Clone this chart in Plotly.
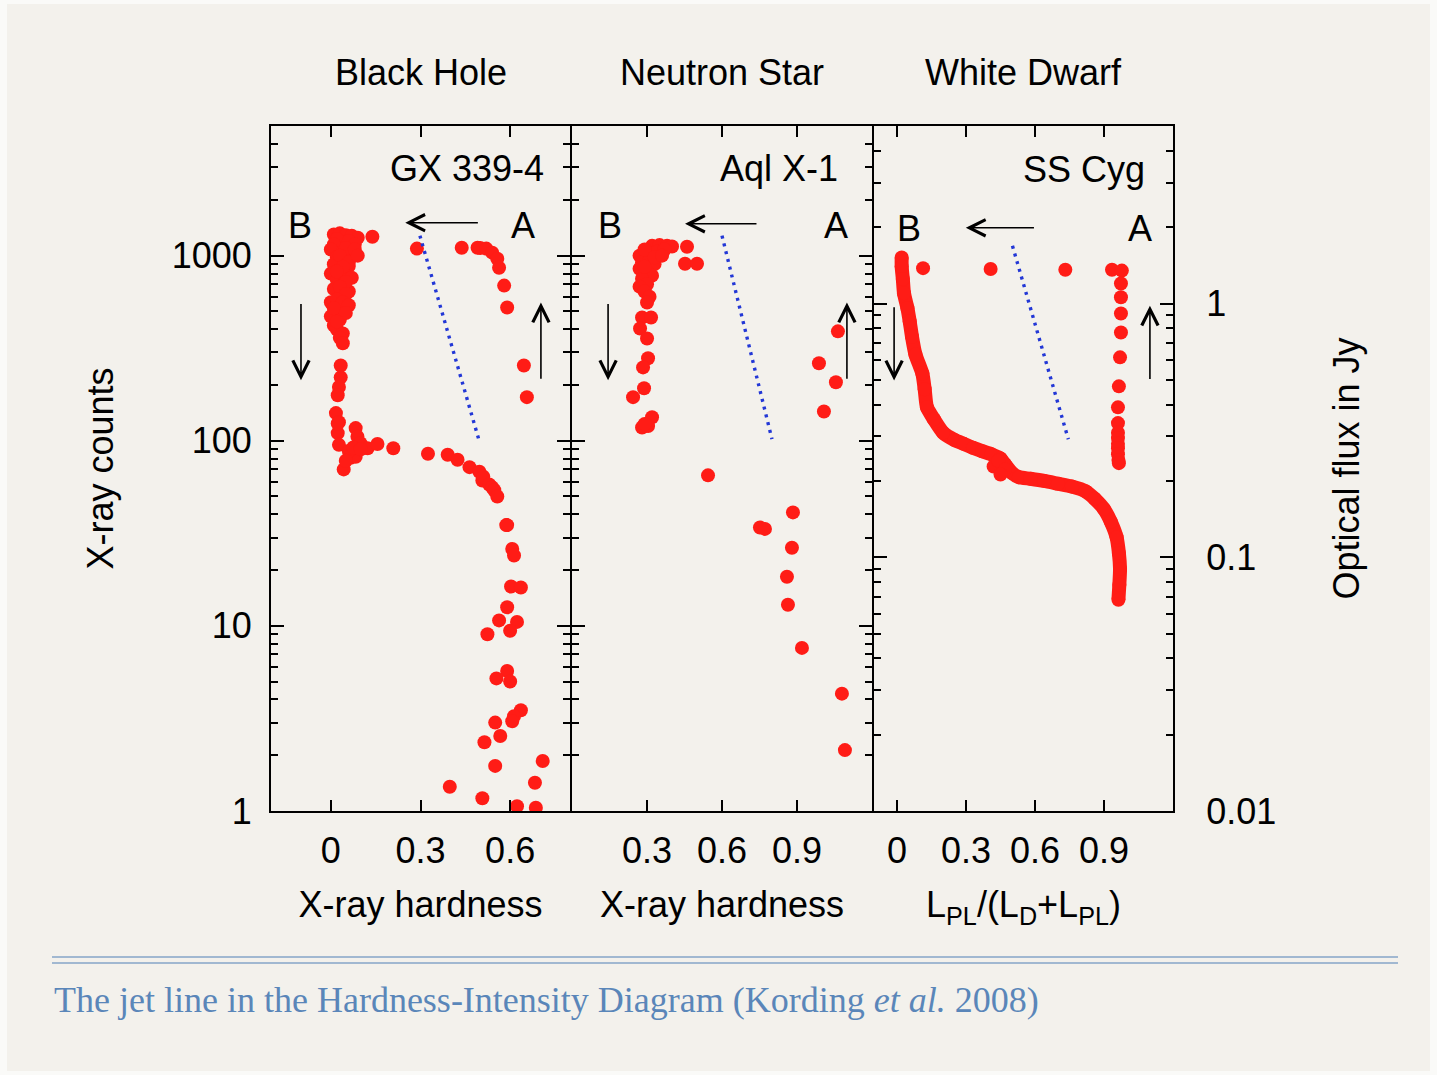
import plotly.graph_objects as go

# ---------------------------------------------------------------- data
# Black hole GX 339-4: X-ray hardness vs X-ray counts
bh_hardness = [0.01, 0.03, 0.05, 0.07, 0.09, 0.02, 0.06, 0.08, 0.01, 0.139,
               0.00, 0.04, 0.07, 0.02, 0.05, 0.01, 0.06, 0.03, 0.00, 0.05,
               0.02, 0.04, 0.01, 0.06, 0.03, 0.00, 0.04, 0.02, 0.00, 0.03,
               0.01, 0.02, 0.04, 0.03, 0.040, 0.033, 0.033, 0.027, 0.023, 0.017,
               0.027, 0.023, 0.023, 0.027, 0.083, 0.089, 0.099, 0.123, 0.156, 0.209,
               0.066, 0.043, 0.083, 0.06, 0.075, 0.05, 0.10,
               0.05, 0.03, 0.06, 0.04, 0.02, 0.07, 0.05, 0.03, 0.05, 0.02,
               0.04, 0.06, 0.01, 0.05, 0.02, 0.08, 0.09,
               0.325, 0.391, 0.424, 0.464, 0.497, 0.507, 0.51, 0.530, 0.54, 0.547,
               0.557, 0.587, 0.590, 0.607, 0.613, 0.603, 0.636, 0.590, 0.563, 0.623,
               0.600, 0.524, 0.590, 0.554, 0.600, 0.636, 0.613, 0.607, 0.550, 0.567,
               0.514, 0.709, 0.550, 0.398, 0.683, 0.507, 0.623, 0.686,
               0.288, 0.438, 0.491, 0.50, 0.520, 0.540, 0.557, 0.563, 0.580, 0.590,
               0.646, 0.656]
bh_counts = [1300, 1320, 1290, 1280, 1250, 1230, 1200, 1150, 1150, 1265,
             1080, 1050, 1020, 980, 950, 900, 880, 840, 800, 780,
             740, 700, 660, 640, 600, 560, 530, 500, 470, 450,
             420, 400, 380, 360, 336, 255, 220, 195, 176, 141,
             126, 110, 124, 95, 117, 105, 97, 91, 96, 91,
             81, 70, 82, 88, 92, 78, 90,
             1100, 1000, 920, 870, 820, 760, 720, 680, 620, 580,
             560, 540, 520, 490, 440, 1080, 1000,
             85, 84, 79, 72, 68, 61, 64, 58, 56, 54,
             50, 35, 35, 26, 24, 16.3, 16.1, 12.6, 10.7, 10.5,
             9.4, 9.0, 5.7, 5.2, 5.0, 3.5, 3.25, 3.05, 3.0, 2.54,
             2.35, 1.86, 1.75, 1.35, 1.42, 1.17, 1.06, 1.04,
             1092, 1104, 1104, 1100, 1092, 1038, 963, 861, 689, 525,
             255, 172]

# Neutron star Aql X-1: X-ray hardness vs X-ray counts
ns_hardness = [0.32, 0.35, 0.38, 0.40, 0.27, 0.30, 0.34, 0.37, 0.28, 0.31,
               0.33, 0.27, 0.30, 0.32, 0.28, 0.30, 0.27, 0.29, 0.31,
               0.29, 0.33, 0.36, 0.29,
               0.46, 0.452, 0.50,
               0.30, 0.28, 0.316, 0.272, 0.30, 0.304, 0.284, 0.288, 0.244, 0.32,
               0.28, 0.304, 0.29,
               1.064, 0.988, 1.056, 1.008,
               0.544, 0.884, 0.752, 0.772, 0.88, 0.86, 0.864, 0.92, 1.08, 1.092]
ns_counts = [1130, 1140, 1130, 1120, 1000, 1020, 1050, 1080, 920, 950,
             900, 850, 820, 780, 750, 700, 680, 640, 600,
             1080, 980, 1000, 870,
             1118, 905, 905,
             558, 463, 463, 404, 357, 279, 249, 192, 172, 134,
             118, 120, 123,
             390, 262, 207, 144,
             65, 41, 34, 33.4, 26.4, 18.4, 13.0, 7.6, 4.3, 2.13]

# White dwarf SS Cyg: power-law fraction vs optical flux (Jy)
wd_fraction = [0.113, 0.407, 0.732, 0.935, 0.978, 0.974, 0.974, 0.974, 0.974, 0.970,
               0.965, 0.961, 0.961, 0.961, 0.961, 0.961, 0.961, 0.961, 0.963, 0.965,
               0.42, 0.44, 0.47, 0.45]
wd_flux = [1.38, 1.37, 1.36, 1.36, 1.35, 1.20, 1.06, 0.914, 0.769, 0.614,
           0.472, 0.390, 0.338, 0.310, 0.295, 0.280, 0.269, 0.255, 0.242, 0.235,
           0.228, 0.240, 0.222, 0.212]

# densely sampled decay track of SS Cyg
wd_track_fraction = [0.02, 0.02, 0.025, 0.03, 0.045, 0.055, 0.065, 0.08, 0.11, 0.12,
                     0.13, 0.16, 0.20, 0.25, 0.29, 0.33, 0.37, 0.41, 0.45, 0.47,
                     0.50, 0.53, 0.58, 0.64, 0.70, 0.76, 0.82, 0.86, 0.90, 0.93,
                     0.955, 0.965, 0.97, 0.967, 0.963]
wd_track_flux = [1.52, 1.40, 1.25, 1.10, 0.96, 0.85, 0.74, 0.63, 0.53, 0.46,
                 0.39, 0.35, 0.31, 0.29, 0.28, 0.27, 0.262, 0.255, 0.245, 0.232,
                 0.215, 0.207, 0.204, 0.200, 0.195, 0.190, 0.182, 0.170, 0.155, 0.138,
                 0.120, 0.104, 0.090, 0.078, 0.068]

# jet line in each panel
bh_jet_x, bh_jet_y = [0.298, 0.494], [1282, 103]
ns_jet_x, ns_jet_y = [0.60, 0.80], [1282, 102]
wd_jet_x, wd_jet_y = [0.502, 0.745], [1.69, 0.292]

panel_titles = ["Black Hole", "Neutron Star", "White Dwarf"]
source_names = ["GX 339-4", "Aql X-1", "SS Cyg"]

# ---------------------------------------------------------------- style
W, H = 1437, 1075
FONT = "Liberation Sans, Arial, Helvetica, sans-serif"
RED = "#ff1c16"
BLUE = "#2237d6"
TXT = 36
LW = 2.2  # frame line width


def fx(p):
    return p / W


def fy(p):
    return 1 - p / H


# frame lines are centred on these pixel positions; domains sit half a line inside
half = LW / 2
y_dom = [fy(812 - half), fy(125 + half)]
edges = [270, 571, 873, 1174]
x_doms = [[fx(edges[i] + half), fx(edges[i + 1] - half)] for i in range(3)]

fig = go.Figure()

marker = dict(color=RED, size=14, line=dict(width=0))
jet = dict(color=BLUE, width=3.4, dash="3px,5px")

fig.add_trace(go.Scatter(x=bh_hardness, y=bh_counts, mode="markers", marker=marker,
                         xaxis="x", yaxis="y", showlegend=False))
fig.add_trace(go.Scatter(x=bh_jet_x, y=bh_jet_y, mode="lines", line=jet,
                         xaxis="x", yaxis="y", showlegend=False))

fig.add_trace(go.Scatter(x=ns_hardness, y=ns_counts, mode="markers", marker=marker,
                         xaxis="x2", yaxis="y2", showlegend=False))
fig.add_trace(go.Scatter(x=ns_jet_x, y=ns_jet_y, mode="lines", line=jet,
                         xaxis="x2", yaxis="y2", showlegend=False))

fig.add_trace(go.Scatter(x=wd_track_fraction, y=wd_track_flux, mode="lines+markers",
                         line=dict(color=RED, width=14, shape="spline", smoothing=0.6),
                         marker=marker, xaxis="x3", yaxis="y3", showlegend=False))
fig.add_trace(go.Scatter(x=wd_fraction, y=wd_flux, mode="markers", marker=marker,
                         xaxis="x3", yaxis="y3", showlegend=False))
fig.add_trace(go.Scatter(x=wd_jet_x, y=wd_jet_y, mode="lines", line=jet,
                         xaxis="x3", yaxis="y3", showlegend=False))

tickfont = dict(family=FONT, size=TXT, color="black")
titlefont = dict(family=FONT, size=TXT, color="black")
base = dict(showline=True, linecolor="black", linewidth=LW, mirror="ticks",
            ticks="inside", tickcolor="black", tickwidth=2, showgrid=False,
            zeroline=False, tickfont=tickfont, fixedrange=True, automargin=False)
log_minor = dict(ticks="inside", ticklen=7, tickwidth=1.5, tickcolor="black",
                 dtick="D1", showgrid=False)

xcfg = dict(base, ticklen=11, ticklabelstandoff=7, title_font=titlefont,
            title_standoff=22)
ycfg = dict(base, type="log", dtick=1, ticklen=13, exponentformat="none",
            minor=log_minor)

fig.update_layout(
    xaxis=dict(xcfg, domain=x_doms[0], range=[-0.2, 0.8], tickvals=[0, 0.3, 0.6],
               ticktext=["0", "0.3", "0.6"], anchor="y", title_text="X-ray hardness"),
    xaxis2=dict(xcfg, domain=x_doms[1], range=[0, 1.2], tickvals=[0.3, 0.6, 0.9],
                ticktext=["0.3", "0.6", "0.9"], anchor="y2", title_text="X-ray hardness"),
    xaxis3=dict(xcfg, domain=x_doms[2], range=[-0.1, 1.2], tickvals=[0, 0.3, 0.6, 0.9],
                ticktext=["0", "0.3", "0.6", "0.9"], anchor="y3",
                title_text="L<sub>PL</sub>/(L<sub>D</sub>+L<sub>PL</sub>)"),
    yaxis=dict(ycfg, domain=y_dom, range=[0, 3.7], anchor="x", ticklabelstandoff=10,
               title_text="X-ray counts", title_standoff=47, title_font=titlefont),
    yaxis2=dict(ycfg, domain=y_dom, range=[0, 3.7], anchor="x2", showticklabels=False),
    yaxis3=dict(ycfg, domain=y_dom, range=[-2, 0.7], anchor="x3", side="right",
                ticklabelstandoff=24, title_text="Optical flux in Jy", title_standoff=59,
                title_font=titlefont),
    width=W, height=H,
    autosize=False,
    margin=dict(l=0, r=0, t=0, b=0, pad=0, autoexpand=False),
    paper_bgcolor="#fafaf8",
    plot_bgcolor="rgba(0,0,0,0)",
    showlegend=False,
)

ann = []
# column headings
for i, t in enumerate(panel_titles):
    ann.append(dict(text=t, xref=f"x{'' if i == 0 else i + 1} domain", x=0.5,
                    yref="paper", y=fy(73), xanchor="center", yanchor="middle",
                    showarrow=False, font=dict(family=FONT, size=TXT, color="black")))

# source names, state labels and direction arrows (axis coordinates; log axes use log10)
panels = [
    dict(x="x", y="y", name_x=0.719, name_y=3.469, b=(-0.103, 3.162), a=(0.643, 3.162),
         h=(0.497, 0.249, 3.178), dn=(-0.10, 2.747, 2.327), up=(0.703, 2.327, 2.747)),
    dict(x="x2", y="y2", name_x=1.072, name_y=3.469, b=(0.152, 3.162), a=(1.056, 3.162),
         h=(0.744, 0.452, 3.172), dn=(0.144, 2.747, 2.327), up=(1.10, 2.327, 2.747)),
    dict(x="x3", y="y3", name_x=1.087, name_y=0.530, b=(0.052, 0.295), a=(1.056, 0.295),
         h=(0.602, 0.299, 0.299), dn=(-0.013, -0.008, -0.303), up=(1.10, -0.303, -0.008)),
]
lab_font = dict(family=FONT, size=TXT, color="black")
for i, p in enumerate(panels):
    name = source_names[i]
    ann.append(dict(text=name, xref=p["x"], yref=p["y"], x=p["name_x"], y=p["name_y"],
                    xanchor="right", yanchor="middle", showarrow=False, font=lab_font))
    for lbl, key in (("B", "b"), ("A", "a")):
        ann.append(dict(text=lbl, xref=p["x"], yref=p["y"], x=p[key][0], y=p[key][1],
                        xanchor="center", yanchor="middle", showarrow=False, font=lab_font))
    arrow = dict(text="", xref=p["x"], yref=p["y"], axref=p["x"], ayref=p["y"],
                 showarrow=True, arrowhead=5, arrowsize=2.0, arrowwidth=1.6,
                 arrowcolor="black")
    hx0, hx1, hy = p["h"]
    ann.append(dict(arrow, x=hx1, y=hy, ax=hx0, ay=hy))
    dx, dy0, dy1 = p["dn"]
    ann.append(dict(arrow, x=dx, y=dy1, ax=dx, ay=dy0))
    ux, uy0, uy1 = p["up"]
    ann.append(dict(arrow, x=ux, y=uy1, ax=ux, ay=uy0))

# slide caption
ann.append(dict(text="The jet line in the Hardness-Intensity Diagram (Kording <i>et al.</i> 2008)",
                xref="paper", yref="paper", x=fx(52), y=fy(1000), xanchor="left",
                yanchor="middle", showarrow=False,
                font=dict(family="Liberation Serif, Times New Roman, serif", size=36,
                          color="#5a86b9")))
fig.update_layout(annotations=ann)

shapes = [
    dict(type="rect", xref="paper", yref="paper", x0=fx(7), x1=fx(1430), y0=fy(1071),
         y1=fy(4), fillcolor="#f3f1ec", line=dict(width=0), layer="below"),
    dict(type="line", xref="paper", yref="paper", x0=fx(52), x1=fx(1398), y0=fy(957),
         y1=fy(957), line=dict(color="#86a5c9", width=1.6)),
    dict(type="line", xref="paper", yref="paper", x0=fx(52), x1=fx(1398), y0=fy(963),
         y1=fy(963), line=dict(color="#86a5c9", width=1.6)),
]
fig.update_layout(shapes=shapes)

fig.write_html("out.html")
